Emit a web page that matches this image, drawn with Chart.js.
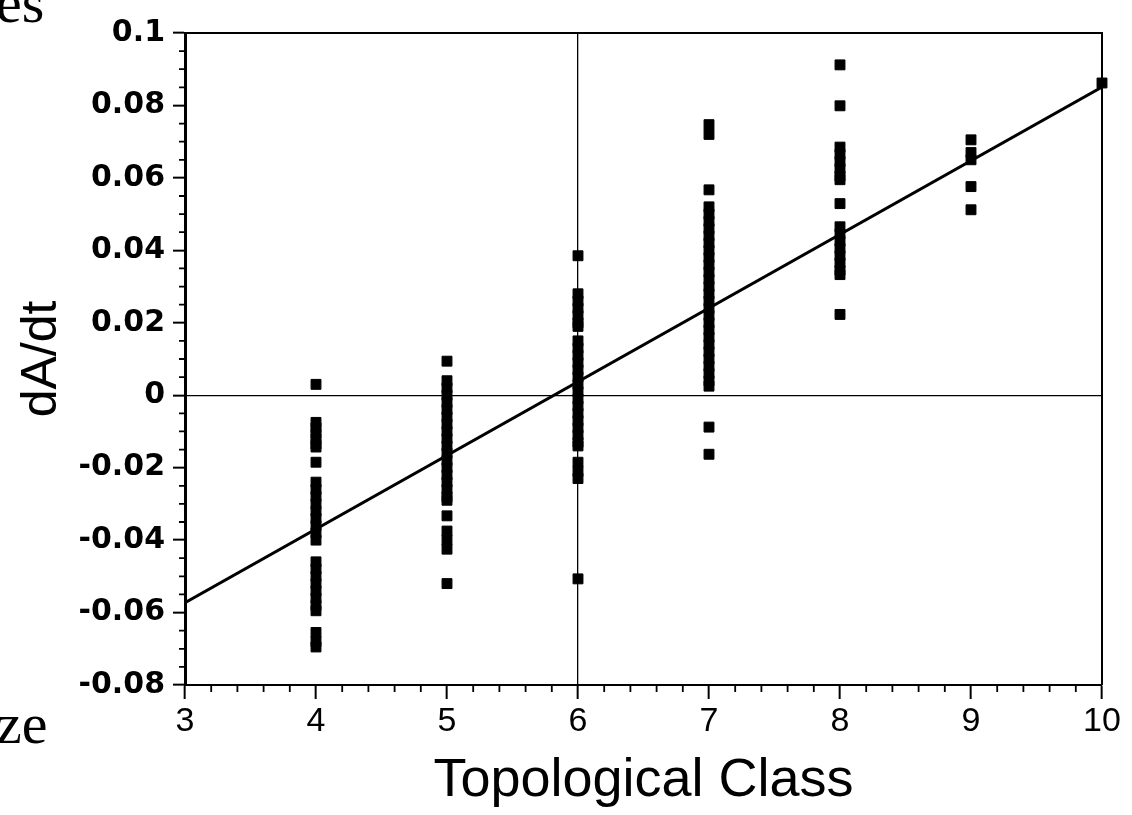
<!DOCTYPE html>
<html>
<head>
<meta charset="utf-8">
<script src="https://cdn.jsdelivr.net/npm/chart.js@4.4.0/dist/chart.umd.min.js"></script>
<style>
  body { margin: 0; background: #fff; }
  #wrap { width: 1132px; height: 815px; }
</style>
</head>
<body>
<div id="wrap"><canvas id="myChart"></canvas></div>
<script>
// dA/dt values, one list per topological class
const class4 = [0.003, -0.0075, -0.009, -0.0105, -0.012, -0.0135, -0.0143, -0.0185,
  -0.024, -0.026, -0.028, -0.030, -0.032, -0.034, -0.036, -0.038, -0.040,
  -0.046, -0.048, -0.050, -0.052, -0.054, -0.056, -0.058, -0.0595,
  -0.0655, -0.068, -0.0695];
const class5 = [0.0094, 0.004, 0.002, 0.000, -0.002, -0.004, -0.006, -0.008, -0.010,
  -0.012, -0.014, -0.016, -0.018, -0.020, -0.022, -0.024, -0.026, -0.028, -0.029,
  -0.0333, -0.0375, -0.040, -0.0425, -0.052];
const class6 = [0.0385, 0.028, 0.026, 0.024, 0.022, 0.020, 0.019,
  0.015, 0.013, 0.011, 0.009, 0.007, 0.005, 0.003, 0.001, -0.001, -0.003, -0.005,
  -0.007, -0.009, -0.011, -0.013, -0.014, -0.0185, -0.021, -0.023, -0.0507];
const class7 = [0.0747, 0.072, 0.0567, 0.052, 0.050, 0.048, 0.046, 0.044, 0.042, 0.040,
  0.038, 0.036, 0.034, 0.032, 0.030, 0.028, 0.026, 0.024, 0.022, 0.020, 0.018, 0.016,
  0.014, 0.012, 0.010, 0.008, 0.006, 0.004, 0.0025, -0.0088, -0.0163];
const class8 = [0.0912, 0.0799, 0.0685, 0.0665, 0.0645, 0.0625, 0.0605, 0.0595, 0.0529,
  0.0465, 0.0445, 0.0425, 0.0405, 0.0385, 0.0365, 0.0345, 0.0333, 0.0223];
const class9 = [0.0705, 0.067, 0.065, 0.0576, 0.0512];
const class10 = [0.0862];

const classes = [4, 5, 6, 7, 8, 9, 10];
const classValues = [class4, class5, class6, class7, class8, class9, class10];

// least squares line as drawn in the figure
const fitX = [3, 10];
const fitY = [-0.0573, 0.0851];

const xTickValues = [3, 4, 5, 6, 7, 8, 9, 10];
const xTickLabels = ['3', '4', '5', '6', '7', '8', '9', '10'];
const yTickValues = [-0.08, -0.06, -0.04, -0.02, 0, 0.02, 0.04, 0.06, 0.08, 0.1];
const yTickLabels = ['-0.08', '-0.06', '-0.04', '-0.02', '0', '0.02', '0.04', '0.06', '0.08', '0.1'];

const points = [];
classes.forEach(function (c, i) {
  classValues[i].forEach(function (v) {
    points.push({ x: c, y: v });
  });
});

// minor ticks, frame and the cut-off words of the scanned page
const extras = {
  id: 'extras',
  afterDraw(chart) {
    const ctx = chart.ctx;
    const area = chart.chartArea;
    const xs = chart.scales.x;
    const ys = chart.scales.y;
    ctx.save();
    ctx.strokeStyle = '#000';
    ctx.lineWidth = 1.8;
    ctx.beginPath();
    for (let i = 0; i <= 36; i++) {
      if (i % 4 === 0) continue;
      const py = ys.getPixelForValue(-0.08 + i * 0.005);
      ctx.moveTo(area.left - 6, py);
      ctx.lineTo(area.left, py);
    }
    for (let i = 0; i <= 35; i++) {
      if (i % 5 === 0) continue;
      const px = xs.getPixelForValue(3 + i * 0.2);
      ctx.moveTo(px, area.bottom);
      ctx.lineTo(px, area.bottom + 7);
    }
    ctx.stroke();

    ctx.lineWidth = 2;
    ctx.beginPath();
    ctx.moveTo(area.left, area.top);
    ctx.lineTo(area.right, area.top);
    ctx.lineTo(area.right, area.bottom);
    ctx.stroke();

    ctx.fillStyle = '#000';
    ctx.font = '58px "Liberation Serif"';
    ctx.textAlign = 'left';
    ctx.textBaseline = 'alphabetic';
    ctx.fillText('es', -4, 22);
    ctx.fillText('ze', -4, 743);
    ctx.restore();
  }
};

const config = {
  data: {
    datasets: [{
      type: 'scatter',
      data: points,
      pointStyle: 'rect',
      pointRadius: 7,
      backgroundColor: '#000',
      borderColor: '#000',
      borderWidth: 1,
      clip: false
    },
    {
      type: 'line',
      data: fitX.map(function (x, i) { return { x: x, y: fitY[i] }; }),
      borderColor: '#000',
      borderWidth: 3,
      pointRadius: 0,
      fill: false
    }]
  },
  options: {
    responsive: true,
    maintainAspectRatio: false,
    animation: false,
    layout: { padding: { top: 33, right: 30, left: 0, bottom: 0 } },
    plugins: { legend: { display: false }, tooltip: { enabled: false } },
    scales: {
      x: {
        type: 'linear',
        min: 3,
        max: 10,
        afterBuildTicks: function (scale) {
          scale.ticks = xTickValues.map(function (v) { return { value: v }; });
        },
        afterFit: function (scale) { scale.height = 130; },
        ticks: {
          autoSkip: false,
          maxRotation: 0,
          padding: 2,
          color: '#000',
          font: { family: '"Liberation Sans"', size: 34 },
          callback: function (value, index) { return xTickLabels[index]; }
        },
        grid: {
          color: function (ctx) { return ctx.tick && ctx.tick.value === 6 ? '#000' : 'rgba(0,0,0,0)'; },
          tickColor: '#000',
          tickLength: 14,
          tickWidth: 2,
          lineWidth: 1.3
        },
        border: { display: true, color: '#000', width: 2 },
        title: {
          display: true,
          text: 'Topological Class',
          color: '#000',
          font: { family: '"Liberation Sans"', size: 54 },
          padding: { top: 0, bottom: 1 }
        }
      },
      y: {
        type: 'linear',
        min: -0.08,
        max: 0.1,
        afterBuildTicks: function (scale) {
          scale.ticks = yTickValues.map(function (v) { return { value: v }; });
        },
        afterFit: function (scale) { scale.width = 185; },
        ticks: {
          autoSkip: false,
          padding: 8,
          color: '#000',
          font: { family: '"DejaVu Sans"', size: 30, weight: 'bold' },
          callback: function (value, index) { return yTickLabels[index]; }
        },
        grid: {
          color: function (ctx) { return ctx.tick && ctx.tick.value === 0 ? '#000' : 'rgba(0,0,0,0)'; },
          tickColor: '#000',
          tickLength: 12,
          tickWidth: 2,
          lineWidth: 1.3
        },
        border: { display: true, color: '#000', width: 3 },
        title: {
          display: true,
          text: 'dA/dt',
          color: '#000',
          font: { family: '"Liberation Sans"', size: 50 },
          padding: { top: 12, bottom: 0 }
        }
      }
    }
  },
  plugins: [extras]
};

const myChart = new Chart(document.getElementById('myChart'), config);
</script>
</body>
</html>
